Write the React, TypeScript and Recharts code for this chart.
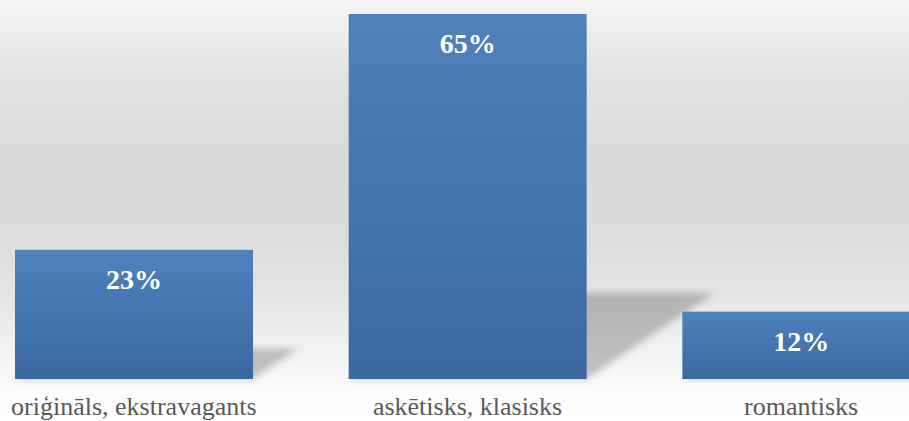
import React from "react";
import { BarChart, Bar, XAxis, YAxis, LabelList } from "recharts";

const categories = ["oriģināls, ekstravagants", "askētisks, klasisks", "romantisks"];
const values = [23, 65, 12];
const valueLabels = ["23%", "65%", "12%"];

const data = categories.map((name, i) => ({ name, value: values[i], label: valueLabels[i] }));

const SERIF = "'Liberation Serif', 'DejaVu Serif', serif";

const BarWithShadow = (props: any) => {
  const { x, y, width, height } = props;
  if (height <= 0) return null;
  const bottom = y + height;
  const hs = height * 0.236;
  const dx = height * 0.35;
  const pts = [
    [x, bottom],
    [x + width, bottom],
    [x + width + dx, bottom - hs],
    [x + dx, bottom - hs],
  ]
    .map((p) => p.join(","))
    .join(" ");
  return (
    <g>
      <polygon points={pts} fill="#000" fillOpacity={0.22} filter="url(#shadowBlur)" />
      <rect x={x} y={y} width={width} height={height} fill="url(#barGrad)" />
    </g>
  );
};

const ValueLabel = (props: any) => {
  const { x, y, width, value } = props;
  return (
    <text
      x={x + width / 2}
      y={y + 39}
      textAnchor="middle"
      fill="#ffffff"
      fontFamily={SERIF}
      fontWeight="bold"
      fontSize={28}
    >
      {value}
    </text>
  );
};

const CatTick = (props: any) => {
  const { x, payload } = props;
  return (
    <text x={x} y={415} textAnchor="middle" fill="#595959" fontFamily={SERIF} fontSize={26}>
      {payload.value}
    </text>
  );
};

export default function App() {
  return (
    <div
      style={{
        position: "absolute",
        left: 0,
        top: 0,
        width: 909,
        height: 421,
        overflow: "hidden",
        background:
          "linear-gradient(to bottom, #f5f5f5 0px, #e2e2e2 80px, #d9d9d9 170px, #dcdcdc 240px, #e6e6e6 300px, #f6f6f6 370px, #fdfdfd 395px, #ffffff 421px)",
      }}
    >
      <div style={{ position: "absolute", left: -33, top: 0 }}>
        <BarChart
          width={1001}
          height={421}
          data={data}
          margin={{ top: 14, right: 0, left: 0, bottom: 0 }}
          barSize={238}
        >
          <defs>
            <linearGradient id="barGrad" x1="0" y1="0" x2="0" y2="1">
              <stop offset="0%" stopColor="#4f81bd" />
              <stop offset="100%" stopColor="#3c68a1" />
            </linearGradient>
            <filter id="shadowBlur" x="-20%" y="-20%" width="140%" height="140%">
              <feGaussianBlur stdDeviation="3.5" />
            </filter>
          </defs>
          <XAxis
            dataKey="name"
            axisLine={false}
            tickLine={false}
            height={42}
            tick={<CatTick />}
            interval={0}
          />
          <YAxis hide domain={[0, 65]} />
          <Bar dataKey="value" shape={<BarWithShadow />} isAnimationActive={false}>
            <LabelList dataKey="label" content={<ValueLabel />} />
          </Bar>
        </BarChart>
      </div>
    </div>
  );
}
